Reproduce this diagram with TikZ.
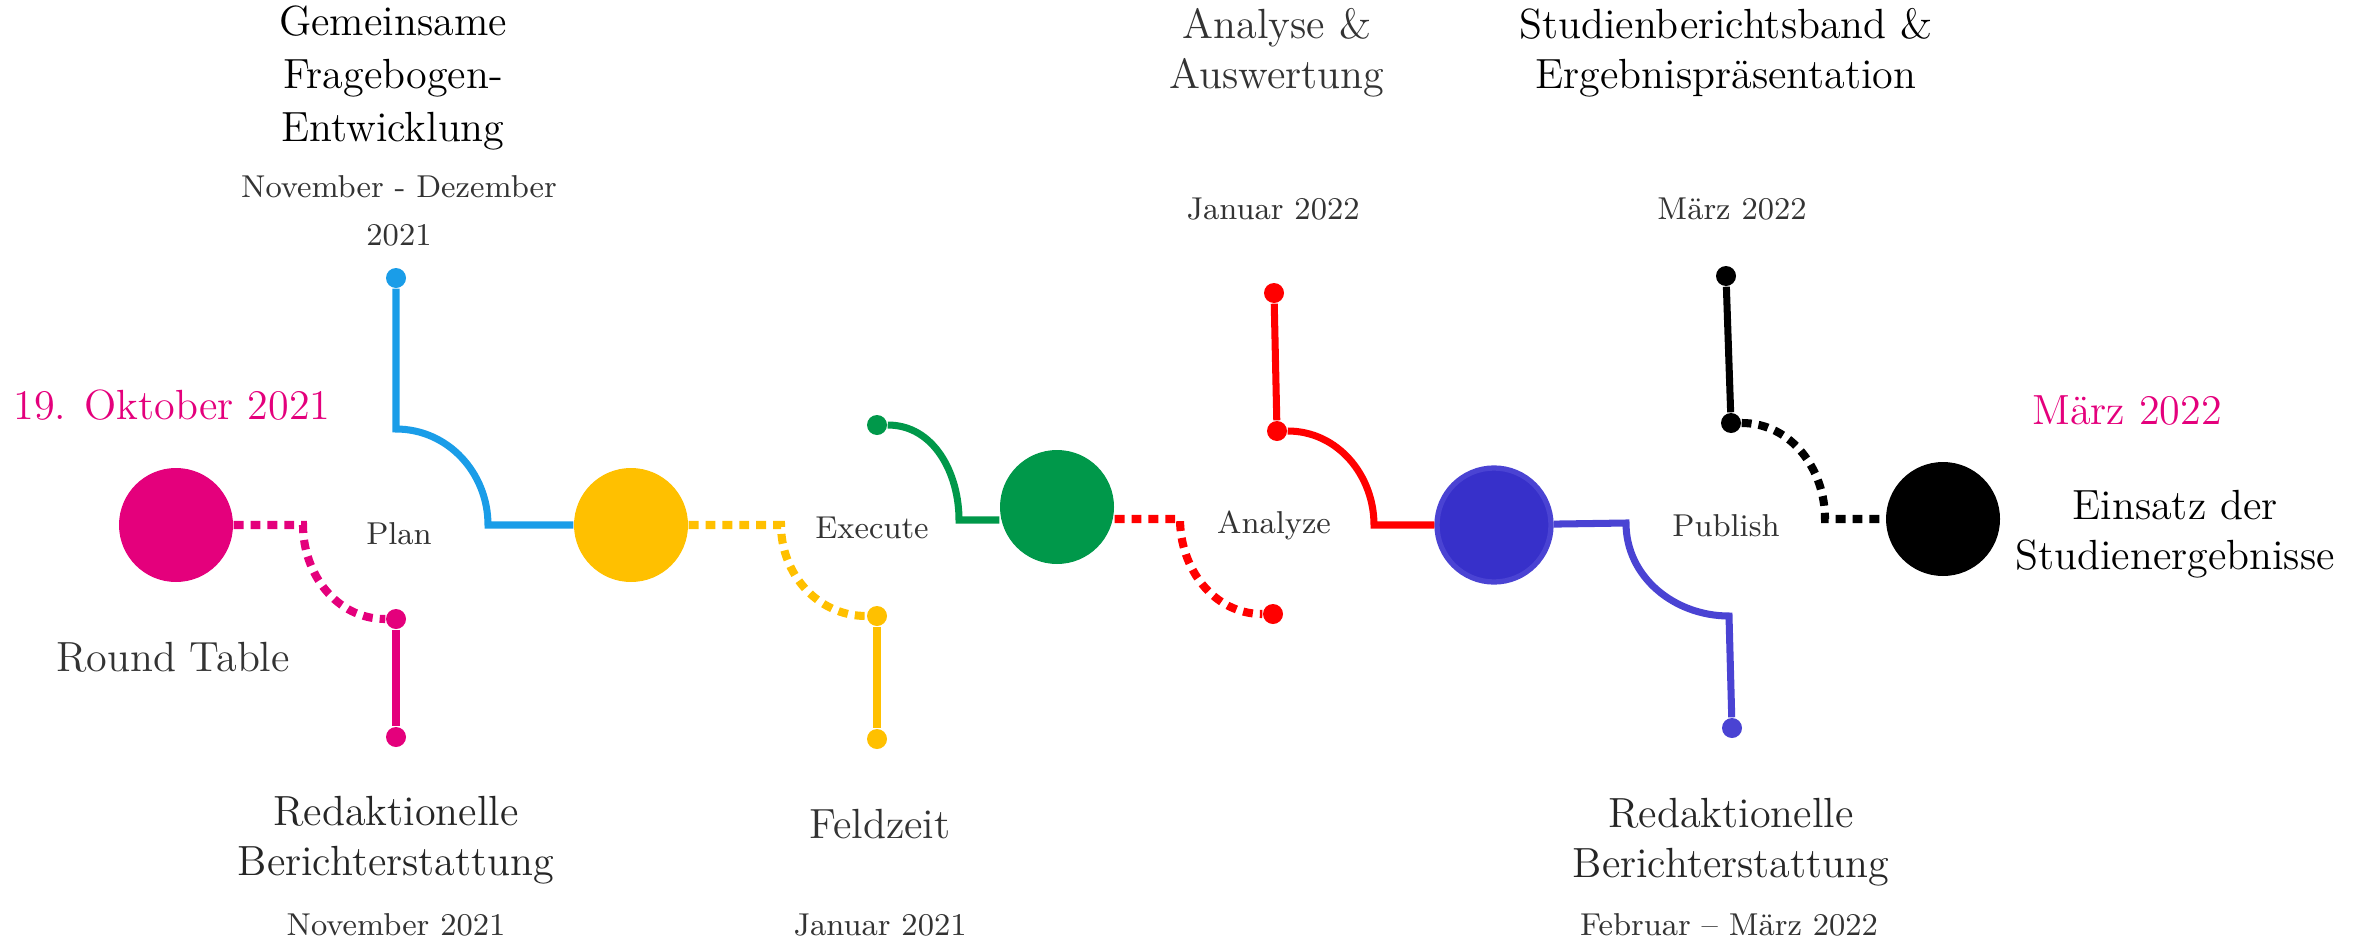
\documentclass[tikz,border=0pt]{standalone}
\usepackage{tikz}
\definecolor{rtpink}{HTML}{E4007C}
\definecolor{planblue}{HTML}{1A9DE8}
\definecolor{feldyellow}{HTML}{FFC000}
\definecolor{execgreen}{HTML}{00984A}
\definecolor{anared}{HTML}{FF0000}
\definecolor{pubindigo}{HTML}{3730CA}
\definecolor{publine}{HTML}{4A43D3}
\definecolor{labelgray}{HTML}{333333}

\begin{document}
\begin{tikzpicture}[
    phase/.style={circle, minimum size=1.14cm, inner sep=0pt},
    knob/.style={circle, minimum size=0.2cm, inner sep=0pt},
    solidline/.style={line width=2pt},
    dashline/.style={line width=2.3pt, dash pattern=on 2.8pt off 2pt},
    bigtext/.style={font=\fontsize{12}{14.2}\selectfont, align=center},
    smalltext/.style={font=\fontsize{9}{13.7}\selectfont, text=labelgray, align=center}
]
\useasboundingbox (0,0) rectangle (23.79,9.40);

% Draw the big milestones
\node[phase, fill=rtpink] (roundtable) at (1.76,4.15) {};
\node[phase, fill=feldyellow] (planend) at (6.31,4.15) {};
\node[phase, fill=execgreen] (executeend) at (10.57,4.33) {};
\node[phase, fill=pubindigo, draw=publine, line width=1.5pt] (analyzeend) at (14.94,4.15) {};
\node[phase, fill=black] (einsatz) at (19.43,4.21) {};

% Draw the small knobs
\node[knob, fill=rtpink] (rtmid) at (3.96,3.21) {};
\node[knob, fill=rtpink] (rtlow) at (3.96,2.03) {};
\node[knob, fill=planblue] (plantop) at (3.96,6.62) {};
\node[knob, fill=feldyellow] (feldmid) at (8.77,3.24) {};
\node[knob, fill=feldyellow] (feldlow) at (8.77,2.01) {};
\node[knob, fill=execgreen] (exectop) at (8.77,5.15) {};
\node[knob, fill=anared] (analow) at (12.73,3.26) {};
\node[knob, fill=anared] (anatop) at (12.74,6.47) {};
\node[knob, fill=anared] (anamid) at (12.77,5.09) {};
\node[knob, fill=publine] (publow) at (17.32,2.12) {};
\node[knob, fill=black] (reptop) at (17.26,6.64) {};
\node[knob, fill=black] (repmid) at (17.31,5.17) {};

% Bends of the lines
\coordinate (rtbend) at (3.03,4.15);
\coordinate (plancorner) at (3.96,5.11);
\coordinate (planbend) at (4.88,4.15);
\coordinate (feldbend) at (7.81,4.15);
\coordinate (execbend) at (9.59,4.20);
\coordinate (anadash) at (11.80,4.21);
\coordinate (anabend) at (13.74,4.15);
\coordinate (pubbend) at (16.26,4.17);
\coordinate (pubcorner) at (17.29,3.24);
\coordinate (repbend) at (18.25,4.21);

% Pink branch
\draw[dashline, rtpink] (roundtable) -- (rtbend) to[out=-90, in=180] (rtmid);
\draw[solidline, rtpink] (rtmid) -- (rtlow);
% Blue branch
\draw[solidline, planblue] (plantop) -- (plancorner) to[out=0, in=90] (planbend) -- (planend);
% Yellow branch
\draw[dashline, feldyellow] (planend) -- (feldbend) to[out=-90, in=180] (feldmid);
\draw[solidline, feldyellow] (feldmid) -- (feldlow);
% Green branch
\draw[solidline, execgreen] (exectop) to[out=0, in=90] (execbend) -- (execbend -| executeend.west);
% Red branches
\draw[dashline, anared] (executeend.east |- anadash) -- (anadash) to[out=-90, in=180] (analow);
\draw[solidline, anared] (anatop) -- (anamid);
\draw[solidline, anared] (anamid) to[out=0, in=90] (anabend) -- (analyzeend);
% Indigo branch
\draw[solidline, publine] (analyzeend) -- (pubbend) to[out=-90, in=180] (pubcorner) -- (publow);
% Black branch
\draw[solidline, black] (reptop) -- (repmid);
\draw[dashline, black] (repmid) to[out=0, in=90] (repbend) -- (einsatz);

% Phase names
\node[smalltext] (tplan) at (3.99,4.06) {Plan};
\node[smalltext] (texecute) at (8.72,4.12) {Execute};
\node[smalltext] (tanalyze) at (12.74,4.15) {Analyze};
\node[smalltext] (tpublish) at (17.26,4.14) {Publish};

% Milestone labels
\node[bigtext, text=rtpink] (tstart) at (1.72,5.35) {19. Oktober 2021};
\node[bigtext, text=labelgray] (tround) at (1.73,2.83) {Round Table};
\node[bigtext, text=rtpink] (tend) at (21.27,5.29) {März 2022};
\node[bigtext] (teinsatz) at (21.75,4.06) {Einsatz der\\Studienergebnisse};

% Top labels
\node[bigtext, font=\fontsize{12}{15}\selectfont] (tfrage) at (3.93,8.62) {Gemeinsame\\Fragebogen-\\Entwicklung};
\node[smalltext] (dfrage) at (3.99,7.29) {November - Dezember\\2021};
\node[bigtext, text=labelgray] (tauswert) at (12.77,8.87) {Analyse \&\\Auswertung};
\node[smalltext] (dauswert) at (12.73,7.31) {Januar 2022};
\node[bigtext] (tband) at (17.26,8.87) {Studienberichtsband \&\\Ergebnispräsentation};
\node[smalltext] (dband) at (17.32,7.31) {März 2022};

% Bottom labels
\node[bigtext, text=black!85] (tredak) at (3.96,1.00) {Redaktionelle\\Berichterstattung};
\node[smalltext] (dredak) at (3.96,0.15) {November 2021};
\node[bigtext, text=labelgray] (tfeld) at (8.80,1.16) {Feldzeit};
\node[smalltext] (dfeld) at (8.80,0.15) {Januar 2021};
\node[bigtext, text=black!85] (tredakb) at (17.31,0.98) {Redaktionelle\\Berichterstattung};
\node[smalltext] (dredakb) at (17.29,0.15) {Februar – März 2022};
\end{tikzpicture}
\end{document}
